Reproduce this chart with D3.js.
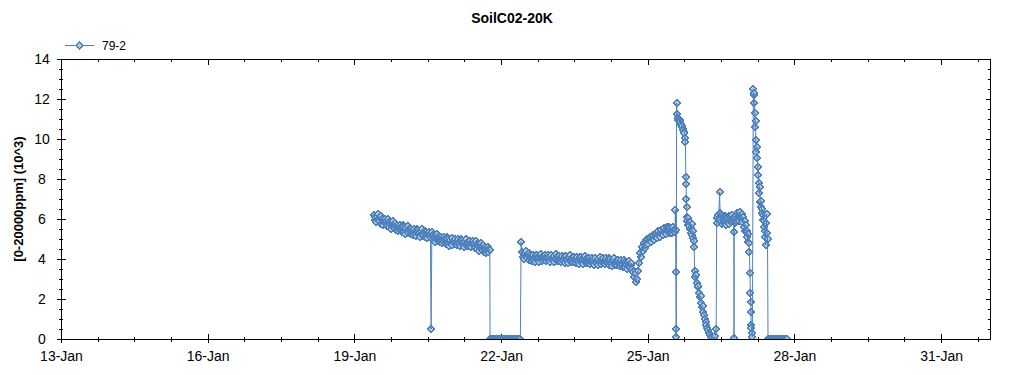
<!DOCTYPE html>
<html>
<head>
<meta charset="utf-8">
<script src="https://cdn.jsdelivr.net/npm/d3@7"></script>
<style>
  html, body { margin: 0; padding: 0; background: #fff; }
  svg { display: block; }
  text { font-family: "Liberation Sans", Arial, sans-serif; fill: #000; }
</style>
</head>
<body>
<svg id="chart" width="1024" height="375"></svg>
<script>
// ---------------- data ----------------
const chartTitle = "SoilC02-20K";
const yAxisTitle = "[0-20000ppm] (10^3)";
const seriesName = "79-2";
const xTickLabels = ["13-Jan", "16-Jan", "19-Jan", "22-Jan", "25-Jan", "28-Jan", "31-Jan"];
const yTickValues = [0, 2, 4, 6, 8, 10, 12, 14];

// regularly logged stretches: start (day of January), logging interval (days), values (10^3 ppm)
const run1Start = 19.40, run1Step = 0.015;
const run1Values = [
  6.2,5.95,6.1,5.85,6.15,6.0,6.25,5.9,6.05,6.15,  5.75,6.0,5.8,5.7,5.95,6.0,5.75,5.9,5.65,6.0,
  5.85,5.6,5.75,5.5,5.8,5.65,5.9,5.55,5.7,5.8,    5.45,5.7,5.5,5.4,5.65,5.7,5.45,5.6,5.35,5.7,
  5.6,5.35,5.5,5.25,5.55,5.4,5.65,5.3,5.45,5.55,  5.25,5.5,5.3,5.2,5.45,5.5,5.25,5.4,5.15,5.5,
  5.45,5.2,5.35,5.1,5.4,5.25,5.5,5.15,5.3,5.4,    5.1,5.35,5.15,5.05,5.3,5.35,5.1,5.25,0.5,5.35,
  5.2,4.95,5.1,4.85,5.15,5.0,5.25,4.9,5.05,5.15,  4.85,5.1,4.9,4.8,5.05,5.1,4.85,5.0,4.75,5.1,
  5.0,4.75,4.9,4.65,4.95,4.8,5.05,4.7,4.85,4.95,  4.75,5.0,4.8,4.7,4.95,5.0,4.75,4.9,4.65,5.0,
  4.95,4.7,4.85,4.6,4.9,4.75,5.0,4.65,4.8,4.9,    4.65,4.9,4.7,4.6,4.85,4.9,4.65,4.8,4.55,4.9,
  4.75,4.5,4.65,4.4,4.7,4.55,4.8,4.45,4.6,4.7,    4.35,4.6,4.4,4.3,4.55,4.6,4.35,4.5,4.45
];
const run2Start = 22.43, run2Step = 0.015;
const run2Values = [
  4.35,4.1,4.25,4.0,4.3,4.15,4.4,4.05,4.2,4.3,    3.95,4.2,4.0,3.9,4.15,4.2,3.95,4.1,3.85,4.2,
  4.2,3.95,4.1,3.85,4.15,4.0,4.25,3.9,4.05,4.15,  3.95,4.2,4.0,3.9,4.15,4.2,3.95,4.1,3.85,4.2,
  4.2,3.95,4.1,3.85,4.15,4.0,4.25,3.9,4.05,4.15,  3.9,4.15,3.95,3.85,4.1,4.15,3.9,4.05,3.8,4.15,
  4.15,3.9,4.05,3.8,4.1,3.95,4.2,3.85,4.0,4.1,    3.85,4.1,3.9,3.8,4.05,4.1,3.85,4.0,3.75,4.1,
  4.1,3.85,4.0,3.75,4.05,3.9,4.15,3.8,3.95,4.05,  3.8,4.05,3.85,3.75,4.0,4.05,3.8,3.95,3.7,4.05,
  4.05,3.8,3.95,3.7,4.0,3.85,4.1,3.75,3.9,4.0,    3.8,4.05,3.85,3.75,4.0,4.05,3.8,3.95,3.7,4.05,
  4.0,3.75,3.9,3.65,3.95,3.8,4.05,3.7,3.85,3.95,  3.7,3.95,3.75,3.65,3.9,3.95,3.7,3.85,3.6,3.95,
  3.85,3.6,3.75,3.5,3.8,3.65,3.9,3.55,3.7,3.8,    3.5,3.35
];
const zeroRun1Start = 21.775, zeroRun2Start = 27.46, zeroRunStep = 0.01;
const zeroRun1Values = [
  0,0,0,0,0,0,0,0,0,0, 0,0,0,0,0,0,0,0,0,0, 0,0,0,0,0,0,0,0,0,0,
  0,0,0,0,0,0,0,0,0,0, 0,0,0,0,0,0,0,0,0,0, 0,0,0,0,0,0,0,0,0,0, 0,0,0
];
const zeroRun2Values = [
  0,0,0,0,0,0,0,0,0,0, 0,0,0,0,0,0,0,0,0,0, 0,0,0,0,0,0,0,0,0,0, 0,0,0,0,0,0,0,0,0,0
];

// irregular readings: [day of January (decimal), value in 10^3 ppm]
const readings = [
  [22.41,4.85],
  [24.72,3.1],[24.74,3.25],[24.76,2.85],[24.78,3.0],[24.80,3.4],[24.82,3.8],[24.84,4.3],[24.86,4.1],
  [24.88,4.6],[24.90,4.4],[24.92,4.8],[24.935,4.55],[24.95,4.7],[24.965,4.95],[24.98,5.0],[24.995,4.8],
  [25.01,4.75],[25.025,5.05],[25.04,5.1],[25.055,4.9],[25.07,4.85],[25.085,5.15],[25.10,5.2],[25.115,5.0],
  [25.13,4.95],[25.145,5.25],[25.16,5.3],[25.175,5.1],[25.19,5.05],[25.205,5.35],[25.22,5.4],[25.235,5.15],
  [25.25,5.1],[25.265,5.4],[25.28,5.45],[25.295,5.25],[25.31,5.2],[25.325,5.5],[25.34,5.55],[25.355,5.3],
  [25.37,5.25],[25.385,5.55],[25.40,5.6],[25.415,5.35],[25.43,5.3],[25.445,5.6],[25.46,5.55],[25.475,5.3],
  [25.49,5.3],[25.505,5.5],[25.52,5.6],[25.535,5.35],[25.55,5.35],
  [25.56,5.5],[25.565,6.45],[25.57,5.45],[25.575,3.35],[25.58,0.5],[25.585,0.1],
  [25.59,11.8],[25.60,11.25],[25.61,11.05],[25.62,10.95],[25.63,11.0],[25.64,10.9],[25.65,10.95],[25.66,10.8],
  [25.67,10.85],[25.68,10.7],[25.69,10.75],[25.70,10.6],[25.71,10.65],[25.72,10.5],[25.73,10.45],[25.74,10.35],
  [25.75,10.3],[25.76,10.05],[25.77,9.85],[25.78,8.1],[25.785,7.75],[25.79,7.0],[25.795,6.6],[25.80,6.1],
  [25.81,5.9],[25.82,5.7],[25.83,6.05],[25.84,5.85],[25.85,5.65],[25.86,5.5],[25.87,5.85],[25.88,5.3],
  [25.89,5.55],[25.90,5.75],[25.91,5.2],[25.92,5.05],[25.93,5.4],[25.94,4.9],[25.95,4.6],
  [25.96,3.4],[25.975,3.1],[25.99,3.2],[26.005,2.8],[26.02,2.6],[26.035,2.65],[26.05,2.3],[26.065,2.1],
  [26.08,2.15],[26.095,1.8],[26.11,1.6],[26.125,1.65],[26.14,1.35],[26.155,1.2],[26.17,1.0],[26.185,0.85],
  [26.20,0.7],[26.215,0.55],[26.23,0.45],[26.25,0.3],[26.27,0.2],[26.29,0.1],[26.32,0.05],[26.35,0.0],
  [26.38,0.15],[26.40,0.5],[26.41,6.05],[26.42,5.8],[26.43,6.2],[26.45,6.0],[26.47,7.35],[26.48,6.3],
  [26.49,5.85],[26.51,6.2],[26.52,5.75],[26.54,6.1],[26.55,5.8],[26.57,6.15],[26.58,5.85],[26.60,6.1],
  [26.61,5.7],[26.63,6.05],[26.64,5.8],[26.66,6.15],[26.67,5.75],[26.69,6.1],[26.70,5.85],[26.72,6.2],
  [26.73,5.9],[26.75,6.05],[26.76,5.35],[26.765,0.05],[26.77,6.0],[26.78,5.8],[26.80,6.2],[26.81,5.9],
  [26.83,6.3],[26.84,5.95],[26.86,6.25],[26.87,5.9],[26.89,6.35],[26.90,6.0],[26.92,6.25],[26.93,5.85],
  [26.95,6.1],[26.96,5.6],[26.98,5.9],[26.99,5.4],[27.01,5.7],[27.02,5.1],[27.03,5.4],[27.05,4.85],
  [27.06,5.25],[27.07,4.8],[27.08,4.35],
  [27.09,3.3],[27.10,2.3],[27.105,1.85],[27.11,1.35],[27.115,0.7],[27.12,0.55],[27.13,0.3],[27.14,0.1],
  [27.16,12.5],[27.165,12.2],[27.17,12.3],[27.18,11.8],[27.19,11.3],[27.20,10.6],[27.205,10.9],[27.21,9.95],
  [27.22,9.35],[27.23,9.6],[27.24,9.05],[27.25,8.6],[27.26,8.2],[27.27,7.8],[27.28,7.3],[27.29,7.6],
  [27.30,6.85],[27.31,6.6],[27.32,6.9],[27.33,6.3],[27.34,6.5],[27.35,5.95],[27.36,6.2],[27.37,5.6],
  [27.38,5.9],[27.39,5.1],[27.40,5.4],[27.41,4.7],[27.42,5.8],[27.43,6.25],[27.44,5.3],[27.45,5.0]
];

// ---------------- drawing ----------------
(function () {
const svg = d3.select("#chart");
const mLeft = 61, mRight = 990, mTop = 59, mBottom = 339;

const runToPairs = (start, step, vals) => vals.map((v, i) => [start + i * step, v]);
const allPoints = [
  ...runToPairs(run1Start, run1Step, run1Values),
  ...runToPairs(zeroRun1Start, zeroRunStep, zeroRun1Values),
  ...runToPairs(run2Start, run2Step, run2Values),
  ...runToPairs(zeroRun2Start, zeroRunStep, zeroRun2Values),
  ...readings
].sort((a, b) => a[0] - b[0]);

const jan = d => new Date(2014, 0, 1).getTime() + (d - 1) * 86400000;
const x = d3.scaleTime()
  .domain([new Date(2014, 0, 13), new Date(2014, 1, 1)])
  .range([mLeft, mRight]);
const y = d3.scaleLinear().domain([0, 14]).range([mBottom, mTop]);

const parseLabel = d3.timeParse("%d-%b-%Y");
const majorDates = xTickLabels.map(l => parseLabel(l + "-2014"));
const minorDates = d3.range(x.domain()[0].getTime(), x.domain()[1].getTime() + 1, 18 * 3600000).map(t => new Date(t));
const minorY = d3.range(0, 14.01, 0.5);

const fontTick = "14px";
const fam = "Liberation Sans, Arial, sans-serif";

function styleAxis(g) {
  g.select(".domain").remove();
  g.selectAll(".tick line").attr("stroke", "#000").attr("stroke-width", 1).attr("shape-rendering", "crispEdges");
}

// bottom axis
svg.append("g").attr("transform", `translate(0,${mBottom})`)
  .call(d3.axisBottom(x).tickValues(majorDates).tickSize(4).tickPadding(8).tickFormat((d, i) => xTickLabels[i]))
  .call(styleAxis)
  .call(g => g.selectAll("text").style("font-size", fontTick).style("font-family", fam));
svg.append("g").attr("transform", `translate(0,${mBottom})`)
  .call(d3.axisTop(x).tickValues(majorDates).tickSize(5).tickFormat(""))
  .call(styleAxis);
svg.append("g").attr("transform", `translate(0,${mBottom})`)
  .call(d3.axisBottom(x).tickValues(minorDates).tickSize(3).tickFormat(""))
  .call(styleAxis);
svg.append("g").attr("transform", `translate(0,${mBottom})`)
  .call(d3.axisTop(x).tickValues(minorDates).tickSize(2).tickFormat(""))
  .call(styleAxis);

// top axis: inward ticks
svg.append("g").attr("transform", `translate(0,${mTop})`)
  .call(d3.axisBottom(x).tickValues(majorDates).tickSize(6).tickFormat(""))
  .call(styleAxis);
svg.append("g").attr("transform", `translate(0,${mTop})`)
  .call(d3.axisBottom(x).tickValues(minorDates).tickSize(3).tickFormat(""))
  .call(styleAxis);

// left axis
svg.append("g").attr("transform", `translate(${mLeft},0)`)
  .call(d3.axisLeft(y).tickValues(yTickValues).tickSize(4).tickPadding(0))
  .call(styleAxis)
  .call(g => g.selectAll("text").attr("text-anchor", "middle").attr("x", -(mLeft - 42))
    .style("font-size", fontTick).style("font-family", fam));
svg.append("g").attr("transform", `translate(${mLeft},0)`)
  .call(d3.axisRight(y).tickValues(yTickValues).tickSize(5).tickFormat(""))
  .call(styleAxis);
svg.append("g").attr("transform", `translate(${mLeft},0)`)
  .call(d3.axisLeft(y).tickValues(minorY).tickSize(2).tickFormat(""))
  .call(styleAxis);
svg.append("g").attr("transform", `translate(${mLeft},0)`)
  .call(d3.axisRight(y).tickValues(minorY).tickSize(2).tickFormat(""))
  .call(styleAxis);

// right axis: inward ticks
svg.append("g").attr("transform", `translate(${mRight},0)`)
  .call(d3.axisLeft(y).tickValues(yTickValues).tickSize(4).tickFormat(""))
  .call(styleAxis);
svg.append("g").attr("transform", `translate(${mRight},0)`)
  .call(d3.axisLeft(y).tickValues(minorY).tickSize(2).tickFormat(""))
  .call(styleAxis);

// frame
svg.append("rect")
  .attr("x", mLeft).attr("y", mTop)
  .attr("width", mRight - mLeft).attr("height", mBottom - mTop)
  .attr("fill", "none").attr("stroke", "#000").attr("stroke-width", 1)
  .attr("shape-rendering", "crispEdges");

// clip
svg.append("clipPath").attr("id", "plotClip")
  .append("rect").attr("x", mLeft).attr("y", mTop).attr("width", mRight - mLeft).attr("height", mBottom - mTop);

const lineColor = "#4f81bd";
const markerFill = "#b4c9dc";
const diamond = "M0,-3.5L3.5,0L0,3.5L-3.5,0Z";

const plot = svg.append("g").attr("clip-path", "url(#plotClip)");
const line = d3.line().x(d => x(jan(d[0]))).y(d => y(d[1]));
plot.selectAll("path.pt").data(allPoints).join("path")
  .attr("class", "pt")
  .attr("transform", d => `translate(${Math.round(x(jan(d[0])))},${Math.round(y(d[1]))})`)
  .attr("d", diamond)
  .attr("fill", markerFill).attr("stroke", lineColor).attr("stroke-width", 1)
  .attr("shape-rendering", "crispEdges");
plot.append("path").datum(allPoints)
  .attr("d", line).attr("fill", "none").attr("stroke", lineColor).attr("stroke-width", 1);

// title
svg.append("text").attr("x", 512).attr("y", 23).attr("text-anchor", "middle")
  .style("font-size", "14px").style("font-weight", "bold").text(chartTitle);

// y title
svg.append("text").attr("transform", `translate(23,${(mTop + mBottom) / 2}) rotate(-90)`)
  .attr("text-anchor", "middle")
  .style("font-size", "13px").style("font-weight", "bold").text(yAxisTitle);

// legend
const lg = svg.append("g");
lg.append("line").attr("x1", 65).attr("x2", 94).attr("y1", 45.5).attr("y2", 45.5)
  .attr("stroke", lineColor).attr("stroke-width", 1);
lg.append("path").attr("d", diamond).attr("transform", "translate(79.5,45.5)")
  .attr("fill", markerFill).attr("stroke", lineColor).attr("shape-rendering", "crispEdges");
lg.append("text").attr("x", 102).attr("y", 50).style("font-size", "12px").text(seriesName);
})();
</script>
</body>
</html>
